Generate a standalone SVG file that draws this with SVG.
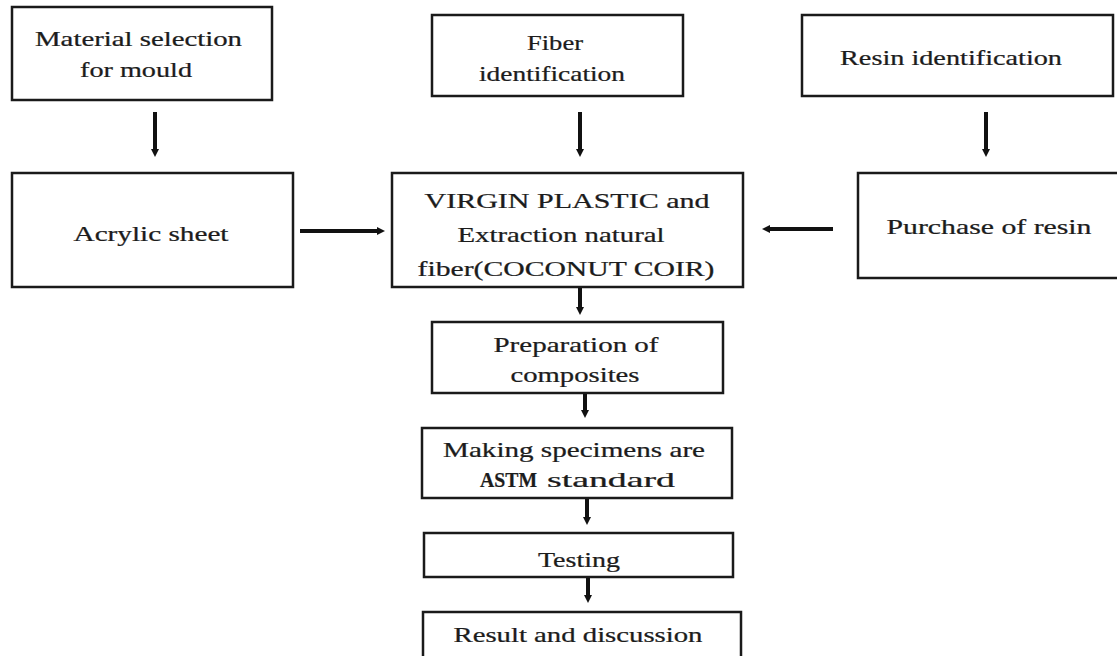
<svg xmlns="http://www.w3.org/2000/svg" width="1117" height="656" viewBox="0 0 1117 656">
<style>
.box{fill:#fff;stroke:#1a1a1a;stroke-width:2.5}
.t{font-family:"Liberation Serif","Times New Roman",serif;font-size:21.5px;fill:#1c1c1c;text-anchor:middle;stroke:#1c1c1c;stroke-width:0.25}
.c{stroke:#111;stroke-width:4;fill:none}
</style>
<defs>
<marker id="ah" markerUnits="userSpaceOnUse" markerWidth="9" markerHeight="10" refX="1" refY="5" orient="auto">
<path d="M0,1 L8,5 L0,9 z" fill="#111"/>
</marker>
</defs>
<rect width="1117" height="656" fill="#fff"/>
<g id="connectors">
<line class="c" x1="155" y1="112" x2="155" y2="150" marker-end="url(#ah)"/>
<line class="c" x1="580" y1="112" x2="580" y2="150" marker-end="url(#ah)"/>
<line class="c" x1="986" y1="112" x2="986" y2="150" marker-end="url(#ah)"/>
<line class="c" x1="300" y1="231" x2="378" y2="231" marker-end="url(#ah)"/>
<line class="c" x1="833" y1="229" x2="769" y2="229" marker-end="url(#ah)"/>
<line class="c" x1="580" y1="287" x2="580" y2="308" marker-end="url(#ah)"/>
<line class="c" x1="585" y1="393" x2="585" y2="411" marker-end="url(#ah)"/>
<line class="c" x1="587" y1="498" x2="587" y2="518" marker-end="url(#ah)"/>
<line class="c" x1="588" y1="577" x2="588" y2="596" marker-end="url(#ah)"/>
</g>
<g id="n1">
<rect class="box" x="12" y="7" width="260" height="93"/>
<text class="t" transform="matrix(1.33 0 0 1 138.5 46)" textLength="155.6" lengthAdjust="spacingAndGlyphs">Material selection</text>
<text class="t" transform="matrix(1.33 0 0 1 136 77)" textLength="84.2" lengthAdjust="spacingAndGlyphs">for mould</text>
</g>
<g id="n2">
<rect class="box" x="12" y="173" width="281" height="114"/>
<text class="t" transform="matrix(1.33 0 0 1 151 241)" textLength="116.5" lengthAdjust="spacingAndGlyphs">Acrylic sheet</text>
</g>
<g id="n3">
<rect class="box" x="432" y="15" width="251" height="81"/>
<text class="t" transform="matrix(1.33 0 0 1 555 50)" textLength="42.1" lengthAdjust="spacingAndGlyphs">Fiber</text>
<text class="t" transform="matrix(1.33 0 0 1 552 81)" textLength="109.8" lengthAdjust="spacingAndGlyphs">identification</text>
</g>
<g id="n4">
<rect class="box" x="392" y="173" width="351" height="114"/>
<text class="t" transform="matrix(1.33 0 0 1 567 208)" textLength="214.3" lengthAdjust="spacingAndGlyphs">VIRGIN PLASTIC and</text>
<text class="t" transform="matrix(1.33 0 0 1 561 242)" textLength="155.6" lengthAdjust="spacingAndGlyphs">Extraction natural</text>
<text class="t" transform="matrix(1.33 0 0 1 566 276)" textLength="223.3" lengthAdjust="spacingAndGlyphs">fiber(COCONUT COIR)</text>
</g>
<g id="n5">
<rect class="box" x="802" y="15" width="311" height="81"/>
<text class="t" transform="matrix(1.33 0 0 1 951 65)" textLength="166.9" lengthAdjust="spacingAndGlyphs">Resin identification</text>
</g>
<g id="n6">
<rect class="box" x="858" y="173" width="264" height="105"/>
<text class="t" transform="matrix(1.33 0 0 1 989 234)" textLength="154.1" lengthAdjust="spacingAndGlyphs">Purchase of resin</text>
</g>
<g id="n7">
<rect class="box" x="432" y="322" width="291" height="71"/>
<text class="t" transform="matrix(1.33 0 0 1 576 352)" textLength="124.1" lengthAdjust="spacingAndGlyphs">Preparation of</text>
<text class="t" transform="matrix(1.33 0 0 1 575 382)" textLength="97" lengthAdjust="spacingAndGlyphs">composites</text>
</g>
<g id="n8">
<rect class="box" x="422" y="428" width="310" height="70"/>
<text class="t" transform="matrix(1.33 0 0 1 574 457)" textLength="197" lengthAdjust="spacingAndGlyphs">Making specimens are</text>
<text class="t" transform="matrix(1.33 0 0 1 508.5 487)" textLength="42.9" lengthAdjust="spacingAndGlyphs" font-weight="bold">ASTM</text>
<text class="t" transform="matrix(1.33 0 0 1 611 487)" textLength="96.2" lengthAdjust="spacingAndGlyphs">standard</text>
</g>
<g id="n9">
<rect class="box" x="424" y="533" width="309" height="44"/>
<text class="t" transform="matrix(1.33 0 0 1 579 567)" textLength="61.7" lengthAdjust="spacingAndGlyphs">Testing</text>
</g>
<g id="n10">
<rect class="box" x="423" y="612" width="318" height="52"/>
<text class="t" transform="matrix(1.33 0 0 1 578 642)" textLength="187.2" lengthAdjust="spacingAndGlyphs">Result and discussion</text>
</g>
</svg>
